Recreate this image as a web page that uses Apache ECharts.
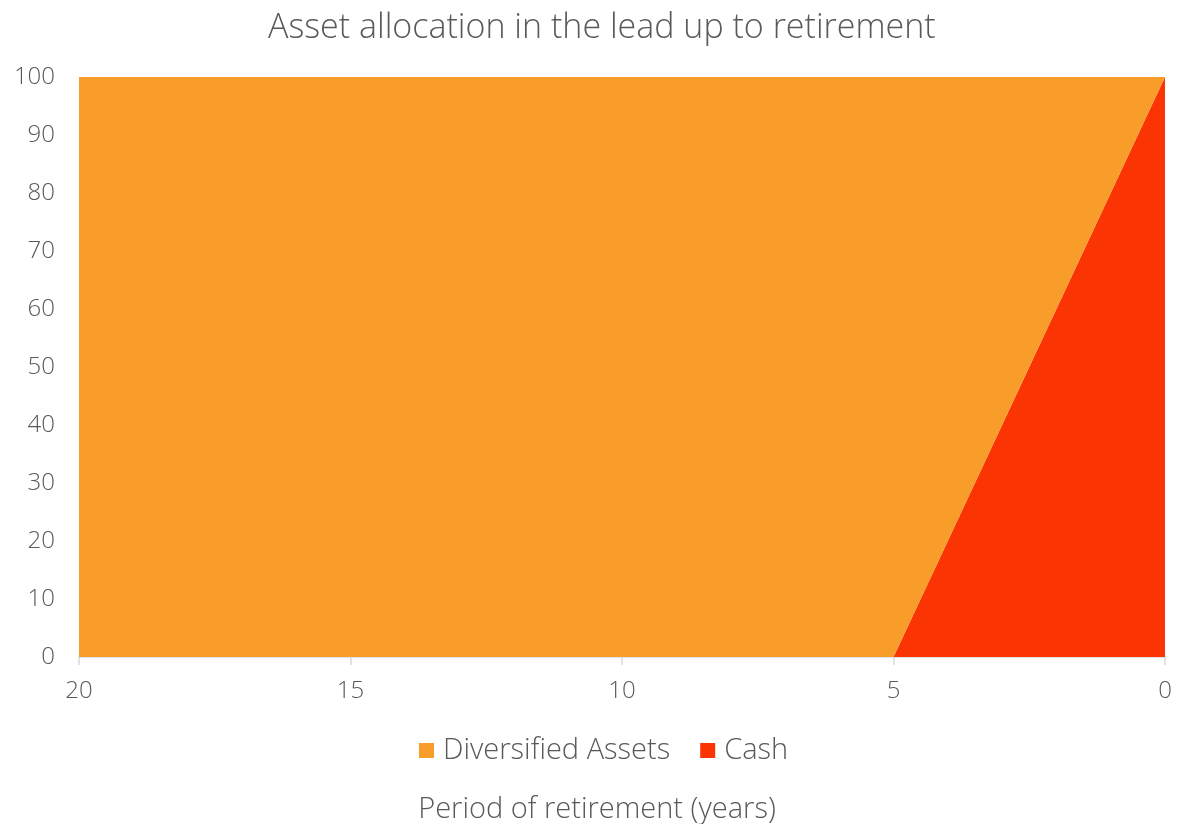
<!DOCTYPE html>
<html>
<head>
<meta charset="utf-8">
<script src="https://cdn.jsdelivr.net/npm/echarts@6/dist/echarts.min.js"></script>
<style>
  html, body { margin: 0; padding: 0; background: #fff; }
  #chart { width: 1181px; height: 824px; }
</style>
</head>
<body>
<div id="chart"></div>
<script>
// years left before retirement
const years = ['20', '19', '18', '17', '16', '15', '14', '13', '12', '11', '10',
  '9', '8', '7', '6', '5', '4', '3', '2', '1', '0']
const diversified = [100, 100, 100, 100, 100, 100, 100, 100, 100, 100, 100,
  100, 100, 100, 100, 100, 80, 60, 40, 20, 0]
const cash = [0, 0, 0, 0, 0, 0, 0, 0, 0, 0, 0,
  0, 0, 0, 0, 0, 20, 40, 60, 80, 100]
const seriesNames = ['Diversified Assets', 'Cash']

const textColor = '#595959'
const font = 'Open Sans'

const chart = echarts.init(document.getElementById('chart'), null, { renderer: 'canvas' })

chart.setOption({
  animation: false,
  title: {
    text: 'Asset allocation in the lead up to retirement',
    left: 263,
    top: 6,
    textStyle: { color: textColor, fontSize: 34, fontWeight: 300, fontFamily: font },
  },
  grid: { left: 79, right: 16, top: 77, bottom: 167, outerBoundsMode: 'none' },
  legend: {
    data: seriesNames,
    bottom: 54,
    left: 414,
    itemWidth: 15,
    itemHeight: 15,
    itemGap: 30,
    icon: 'rect',
    textStyle: { color: textColor, fontSize: 29, fontWeight: 300, fontFamily: font, padding: [0, 0, 0, 4] },
  },
  xAxis: {
    type: 'category',
    data: years,
    boundaryGap: false,
    name: 'Period of retirement (years)',
    nameLocation: 'middle',
    nameGap: 138,
    nameTextStyle: { color: textColor, fontSize: 29, fontWeight: 300, fontFamily: font, padding: [0, 50, 0, 0] },
    axisLine: { show: true, lineStyle: { color: '#d9d9d9', width: 1.5 } },
    axisTick: { show: true, interval: 4, length: 8, lineStyle: { color: '#d9d9d9', width: 1.5 } },
    axisLabel: { interval: 4, color: textColor, fontSize: 24, fontWeight: 300, fontFamily: font, margin: 22 },
    splitLine: { show: false },
  },
  yAxis: {
    type: 'value',
    min: 0,
    max: 100,
    interval: 10,
    axisLine: { show: false },
    axisTick: { show: false },
    axisLabel: { color: textColor, fontSize: 24, fontWeight: 300, fontFamily: font, margin: 24 },
    splitLine: { show: false },
  },
  series: [
    {
      name: seriesNames[1],
      type: 'line',
      stack: 'total',
      data: cash,
      symbol: 'none',
      lineStyle: { width: 0 },
      itemStyle: { color: '#FA3503' },
      areaStyle: { color: '#FA3503', opacity: 1 },
    },
    {
      name: seriesNames[0],
      type: 'line',
      stack: 'total',
      data: diversified,
      symbol: 'none',
      lineStyle: { width: 0 },
      itemStyle: { color: '#F99D2A' },
      areaStyle: { color: '#F99D2A', opacity: 1 },
    },
  ],
})
</script>
</body>
</html>
